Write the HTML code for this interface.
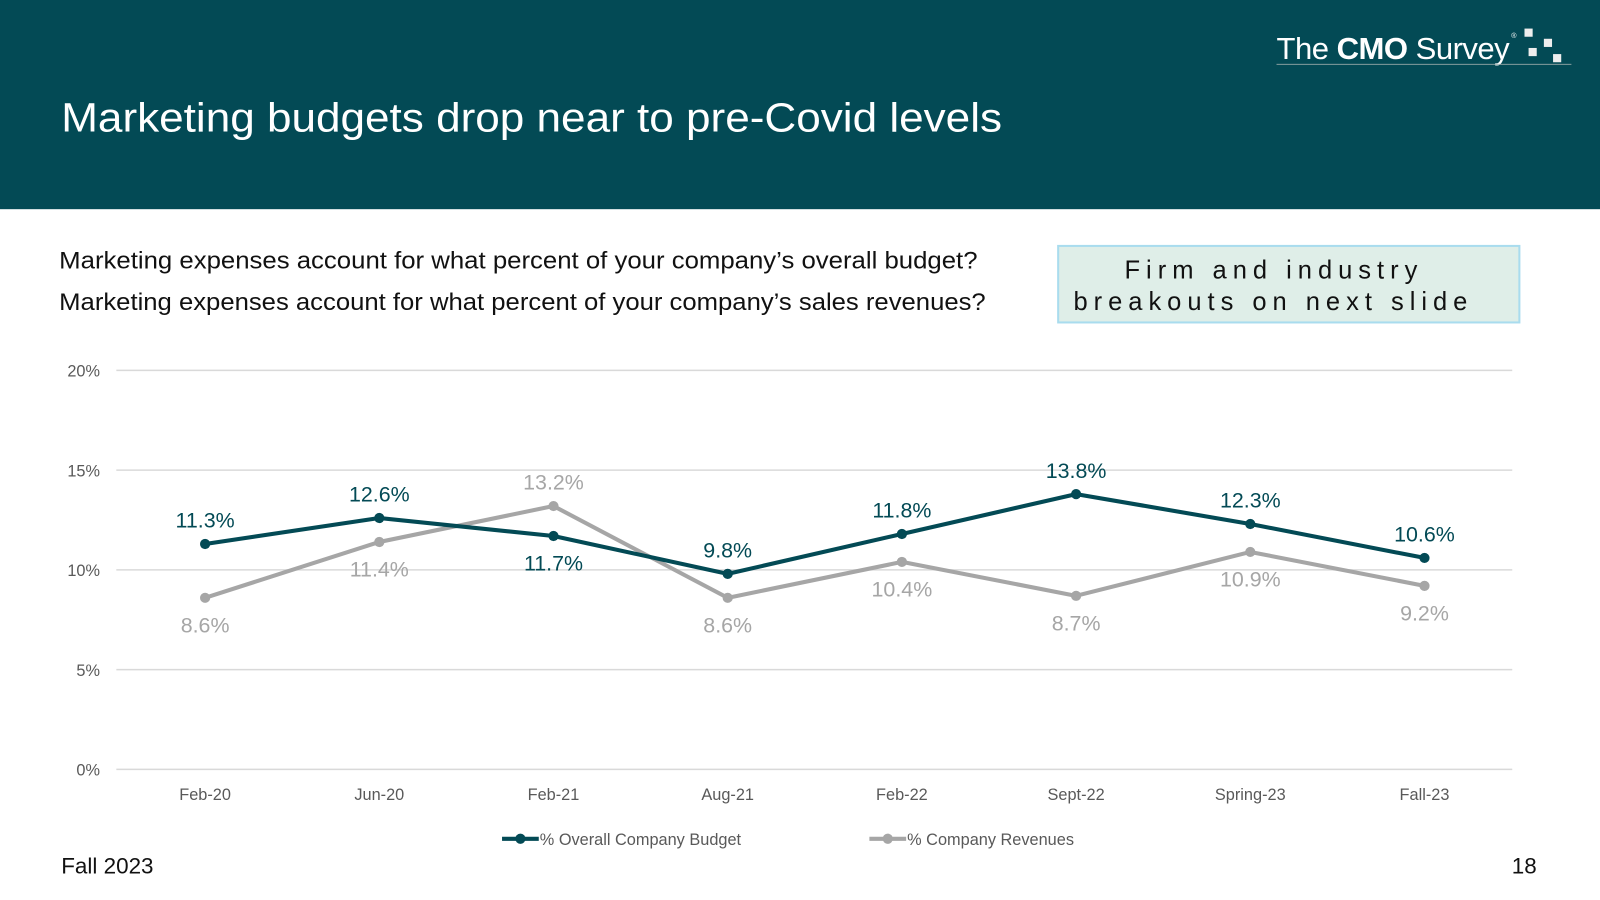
<!DOCTYPE html>
<html><head><meta charset="utf-8"><style>
html,body{margin:0;padding:0;background:#fff;width:1600px;height:900px;overflow:hidden}
svg{display:block;font-family:"Liberation Sans",sans-serif}
</style></head><body>
<svg id="s" width="1600" height="900" viewBox="0 0 1568 882" preserveAspectRatio="none">
<rect x="0" y="0" width="1568" height="205" fill="#034a55"/>
<text x="60" y="129" font-size="40" fill="#fff" textLength="922" lengthAdjust="spacingAndGlyphs">Marketing budgets drop near to pre-Covid levels</text>
<g>
<text x="1251" y="58" font-size="30" fill="#fff" letter-spacing="-0.5" textLength="228" lengthAdjust="spacingAndGlyphs">The <tspan font-weight="bold">CMO</tspan> Survey</text>
<text x="1481" y="37" font-size="7" fill="#fff">®</text>
<line x1="1251" y1="63" x2="1540" y2="63" stroke="#9aa" stroke-width="0.8"/>
<rect x="1494" y="28" width="8" height="8" fill="#eee"/><rect x="1513" y="38" width="8" height="8" fill="#eee"/>
<rect x="1498" y="47" width="8" height="8" fill="#eee"/><rect x="1522" y="53" width="8" height="8" fill="#eee"/>
</g>
<text x="58" y="263" font-size="24" fill="#111" textLength="900" lengthAdjust="spacingAndGlyphs">Marketing expenses account for what percent of your company’s overall budget?</text>
<text x="58" y="304" font-size="24" fill="#111" textLength="908" lengthAdjust="spacingAndGlyphs">Marketing expenses account for what percent of your company’s sales revenues?</text>
<g>
<rect x="1037" y="241" width="452" height="75" fill="#dfeee8" stroke="#a9dcee" stroke-width="2"/>
<text x="1102" y="273" font-size="25" fill="#111" textLength="287" lengthAdjust="spacing">Firm and industry</text>
<text x="1052" y="304" font-size="25" fill="#111" textLength="386" lengthAdjust="spacing">breakouts on next slide</text>
</g>
<g id="chart"></g>
<text x="60" y="856" font-size="22" fill="#111">Fall 2023</text>
<text x="1506" y="856" font-size="22" fill="#111" text-anchor="end">18</text>
</svg>
<script>
const categories=["Feb-20","Jun-20","Feb-21","Aug-21","Feb-22","Sept-22","Spring-23","Fall-23"];
const budgetValues=[11.3,12.6,11.7,9.8,11.8,13.8,12.3,10.6];
const revenueValues=[8.6,11.4,13.2,8.6,10.4,8.7,10.9,9.2];
const yTicks=[0,5,10,15,20];
const budgetLabelAbove=[true,true,false,true,true,true,true,true];
const revenueLabelAbove=[false,false,true,false,false,false,false,false];

const NS="http://www.w3.org/2000/svg";
const g=document.getElementById('chart');
const x0=201,x1=1396,yBase=754,yTop=363;
function xs(i){return x0+i*(x1-x0)/(categories.length-1);}
function ys(v){return yBase-(v/20)*(yBase-yTop);}
function mk(tag,attrs,parent){const e=document.createElementNS(NS,tag);for(const k in attrs)e.setAttribute(k,attrs[k]);(parent||g).appendChild(e);return e;}

yTicks.forEach(t=>{
  const l=mk('line',{x1:114,x2:1482,y1:ys(t),y2:ys(t),stroke:'#d9d9d9','stroke-width':1.5});
  
  
  const tx=mk('text',{x:98,y:ys(t)+6,'font-size':16,fill:'#595959','text-anchor':'end'});
  tx.textContent=t+'%';
  
  
});
categories.forEach((c,i)=>{
  const tx=mk('text',{x:xs(i),y:784,'font-size':16,fill:'#595959','text-anchor':'middle'});
  tx.textContent=c;
  
  
});
function series(vals,color,above,labelColor,name){
  const pts=vals.map((v,i)=>xs(i)+','+ys(v)).join(' ');
  const pl=mk('polyline',{points:pts,fill:'none',stroke:color,'stroke-width':4,'stroke-linejoin':'round'});
  
  
  vals.forEach((v,i)=>{
    const c=mk('circle',{cx:xs(i),cy:ys(v),r:5,fill:color});
    
    
    const t=mk('text',{x:xs(i),y:above[i]?ys(v)-16:ys(v)+34,'font-size':21,fill:labelColor,'text-anchor':'middle'});
    t.textContent=v.toFixed(1)+'%';
    
    
  });
}
series(revenueValues,'#a6a6a6',revenueLabelAbove,'#a6a6a6','revenues');
series(budgetValues,'#034a55',budgetLabelAbove,'#034a55','budget');

function legend(x,color,label,name){
  const lg=mk('g',{});
  
  
  mk('line',{x1:x,x2:x+36,y1:822,y2:822,stroke:color,'stroke-width':4},lg);
  mk('circle',{cx:x+18,cy:822,r:5,fill:color},lg);
  const t=mk('text',{x:x+37,y:828,'font-size':16,fill:'#595959'},lg);
  t.textContent=label;
}
legend(492,'#034a55','% Overall Company Budget','legend-budget');
legend(852,'#a6a6a6','% Company Revenues','legend-revenues');
</script>
</body></html>
